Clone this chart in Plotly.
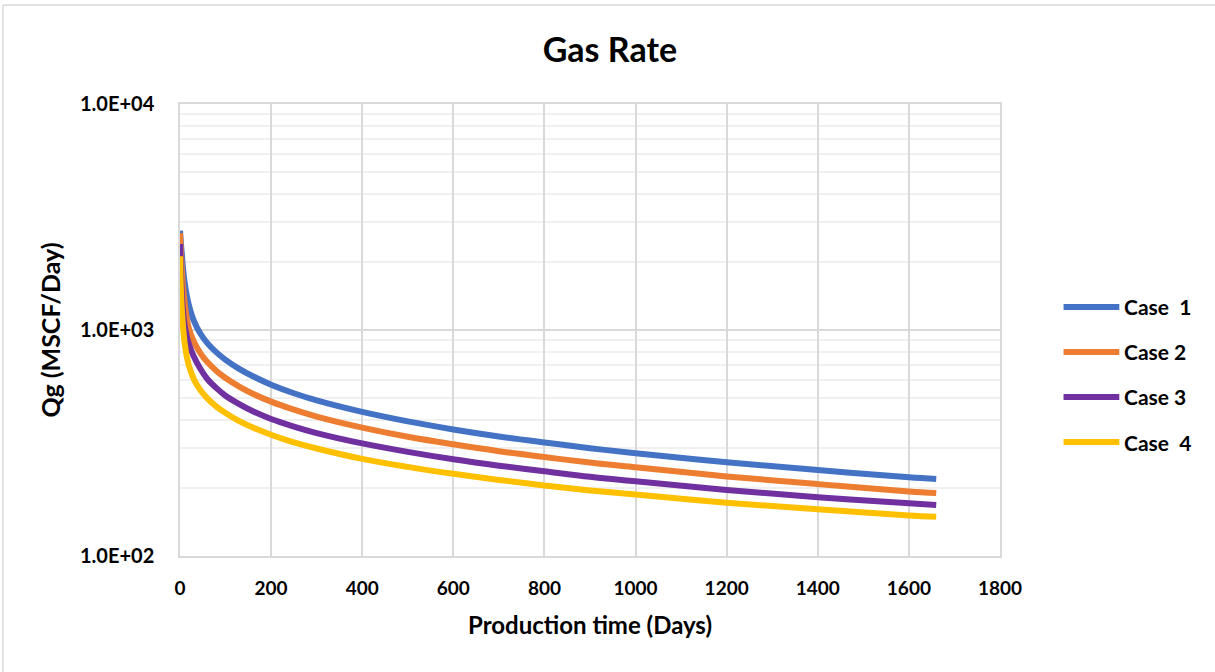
import plotly.graph_objects as go

# Production time (days) at which rates are sampled
days = [0, 1, 2, 4, 7, 10, 15, 20, 30, 45, 60, 80, 100, 130, 160, 200, 250, 300,
        400, 500, 600, 700, 800, 900, 1000, 1200, 1400, 1600, 1660]

# Gas rate, MSCF/Day
case1 = [2750, 2580, 2420, 2170, 1840, 1633, 1416, 1277, 1104, 962, 875, 796, 738, 673, 624,
         573, 525, 488, 434, 394, 363, 338, 318, 300, 285, 260, 240, 223, 219]
case2 = [2680, 2420, 2200, 1850, 1530, 1330, 1120, 1006, 891, 788, 721, 659, 613, 562, 522,
         482, 444, 414, 370, 337, 312, 291, 274, 259, 247, 225, 208, 193, 190]
case3 = [2400, 2050, 1800, 1450, 1180, 1050, 935, 860, 765, 672, 607, 553, 512, 470, 437,
         404, 374, 350, 315, 289, 268, 251, 237, 224, 214, 196, 182, 171, 168]
case4 = [2120, 1780, 1500, 1230, 1014, 879, 761, 690, 608, 541, 498, 458, 429, 395, 370,
         344, 318, 299, 269, 248, 231, 217, 205, 195, 187, 172, 161, 151, 149]

series_names = ["Case\u00a0 1", "Case 2", "Case 3", "Case\u00a0 4"]
series_values = [case1, case2, case3, case4]
series_colors = ["#4472C4", "#ED7D31", "#7030A0", "#FFC000"]

x_ticks = list(range(0, 1801, 200))
y_tickvals = [100, 1000, 10000]
y_ticktext = ["1.0E+02", "1.0E+03", "1.0E+04"]
y_minor = [m * 10 ** e for e in (2, 3) for m in range(2, 10)]

FONT = "Lato, 'Open Sans', sans-serif"

fig = go.Figure()
for name, vals, col in zip(series_names, series_values, series_colors):
    fig.add_trace(go.Scatter(
        x=days, y=vals, mode="lines", name=name,
        line=dict(color=col, width=6, shape="spline", smoothing=1.0),
        showlegend=False,
    ))

# Legend drawn beside the plot area: a short line and a bold label per series
shapes = []
annotations = []
legend_top = 0.551
legend_step = 0.0996
for i, (name, col) in enumerate(zip(series_names, series_colors)):
    yy = legend_top - i * legend_step
    shapes.append(dict(type="line", xref="paper", yref="paper",
                       x0=1.0775, x1=1.1455, y0=yy, y1=yy,
                       line=dict(color=col, width=6)))
    annotations.append(dict(xref="paper", yref="paper", x=1.149, y=yy,
                            text="<b>" + name + "</b>", showarrow=False,
                            xanchor="left", yanchor="middle",
                            font=dict(family=FONT, size=21, color="#000000")))

# Outer chart frame (top and left edges)
shapes.append(dict(type="line", xref="paper", yref="paper",
                   x0=-0.216, x1=1.3, y0=1.219, y1=1.219,
                   line=dict(color="#d9d9d9", width=1.5)))
shapes.append(dict(type="line", xref="paper", yref="paper",
                   x0=-0.216, x1=-0.216, y0=1.219, y1=-0.3,
                   line=dict(color="#d9d9d9", width=1.5)))

fig.update_layout(
    width=1215, height=672,
    margin=dict(l=180, r=215, t=104, b=116),
    paper_bgcolor="white", plot_bgcolor="white",
    title=dict(text="<b>Gas Rate</b>", x=0.502, xref="container", xanchor="center",
               y=0.925, yref="container", yanchor="middle",
               font=dict(family=FONT, size=34, color="#000000")),
    font=dict(family=FONT, color="#000000"),
    shapes=shapes,
    annotations=annotations,
)

fig.update_xaxes(
    range=[0, 1800], tickvals=x_ticks,
    showgrid=True, gridcolor="#d9d9d9", gridwidth=1.5,
    showline=True, linecolor="#d9d9d9", linewidth=1.5, mirror=True,
    zeroline=False,
    ticks="outside", ticklen=14, tickcolor="rgba(0,0,0,0)",
    tickfont=dict(family=FONT, size=19, color="#000000", weight="bold"),
    title=dict(text="<b>Production time (Days)</b>", standoff=20,
               font=dict(family=FONT, size=24, color="#000000")),
)

fig.update_yaxes(
    type="log", range=[2, 4],
    tickvals=y_tickvals, ticktext=y_ticktext,
    showgrid=True, gridcolor="#d9d9d9", gridwidth=1.5,
    minor=dict(tickvals=y_minor, showgrid=True, gridcolor="#f0f0f0", gridwidth=1.5,
               ticks=""),
    showline=True, linecolor="#d9d9d9", linewidth=1.5, mirror=True,
    zeroline=False,
    ticks="outside", ticklen=20, tickcolor="rgba(0,0,0,0)",
    tickfont=dict(family=FONT, size=20, color="#000000", weight="bold"),
    title=dict(text="<b>Qg (MSCF/Day)</b>", standoff=12,
               font=dict(family=FONT, size=25, color="#000000")),
)

fig.write_html("out.html")
